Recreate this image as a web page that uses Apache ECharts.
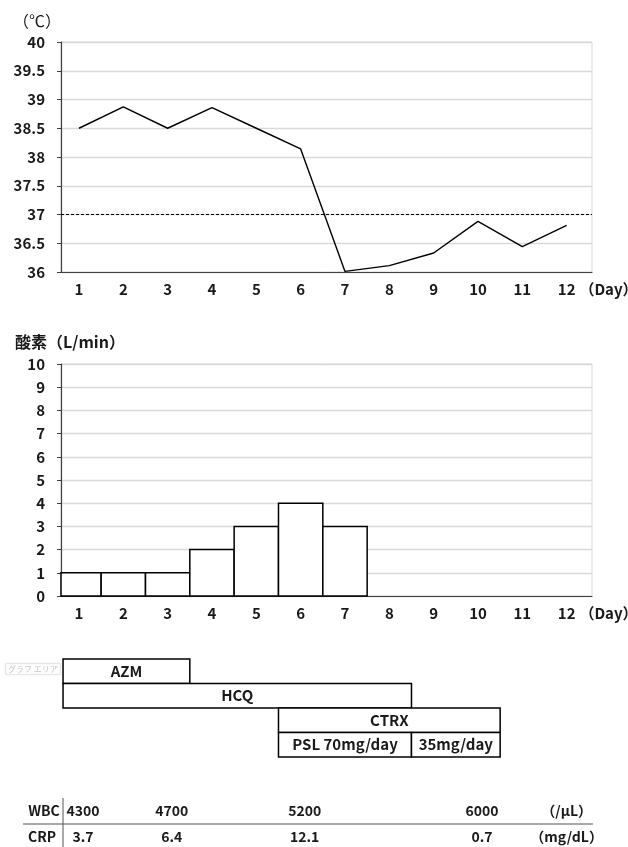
<!DOCTYPE html>
<html>
<head>
<meta charset="utf-8">
<script src="https://cdn.jsdelivr.net/npm/echarts@6/dist/echarts.min.js"></script>
<style>
html,body{margin:0;padding:0;background:#fff;}
#c{width:628px;height:847px;}
</style>
</head>
<body>
<div id="c"></div>
<script>
// ---- data ----
const days = [1,2,3,4,5,6,7,8,9,10,11,12];
const dayLabels = ['1','2','3','4','5','6','7','8','9','10','11','12'];
const temperature = [38.5, 38.87, 38.5, 38.86, 38.5, 38.14, 36.01, 36.11, 36.33, 36.88, 36.44, 36.81];
const feverLine = 37;
const oxygen = [1, 1, 1, 2, 3, 4, 3, 0, 0, 0, 0, 0];
const drugNames = ['AZM', 'HCQ', 'CTRX', 'PSL 70mg/day', '35mg/day'];
const drugStart = [0.64, 0.64, 5.5, 5.5, 8.5];
const drugEnd   = [3.5, 8.5, 10.5, 8.5, 10.5];
const drugRow   = [0, 1, 2, 3, 3];
const labRows = ['WBC', 'CRP'];
const labUnits = ['（/μL）', '（mg/dL）'];
const wbcDays = [1, 3, 6, 10];
const wbcValues = ['4300', '4700', '5200', '6000'];
const crpDays = [1, 3, 6, 10];
const crpValues = ['3.7', '6.4', '12.1', '0.7'];

// ---- styles ----
const FONT = "'Noto Sans CJK JP', 'Noto Sans', sans-serif";
const TXT = '#1a1a1a';
const GRIDC = '#d9d9d9';
const AXC = '#404040';
const XMIN = 0.594, XMAX = 12.572;

const chart = echarts.init(document.getElementById('c'), null, {renderer: 'canvas'});

function dayAxis(gridIndex, showLabels) {
  return {
    type: 'value', gridIndex, min: XMIN, max: XMAX,
    axisLine: {show: showLabels, onZero: false, lineStyle: {color: AXC, width: 1.2}},
    axisTick: {show: false},
    splitLine: {show: false},
    axisLabel: showLabels ? {
      show: true, customValues: days, margin: 10,
      formatter: v => dayLabels[days.indexOf(Math.round(v))] || '',
      fontFamily: FONT, fontWeight: 'bold', fontSize: 15, color: TXT
    } : {show: false},
    name: showLabels ? '（Day）' : '',
    nameLocation: 'end', nameGap: -28,
    nameTextStyle: {fontFamily: FONT, fontWeight: 'bold', fontSize: 15, color: TXT,
      verticalAlign: 'top', align: 'left', padding: [10, 0, 0, 0]}
  };
}

function valAxis(gridIndex, min, max, interval) {
  return {
    type: 'value', gridIndex, min, max, interval,
    axisLine: {show: true, lineStyle: {color: AXC, width: 1.2}},
    axisTick: {show: true, length: 4, lineStyle: {color: AXC}},
    splitLine: {show: true, lineStyle: {color: GRIDC, width: 1.3}},
    axisLabel: {margin: 16, fontFamily: FONT, fontWeight: 'bold', fontSize: 15, color: TXT}
  };
}

const labData = [];
wbcDays.forEach((d, i) => labData.push([d, 0, wbcValues[i]]));
crpDays.forEach((d, i) => labData.push([d, 1, crpValues[i]]));

const option = {
  backgroundColor: '#fff',
  animation: false,
  title: [
    {text: '（℃）', left: 8, top: 8, textStyle: {fontFamily: FONT, fontWeight: 'normal', fontSize: 16, color: TXT}},
    {text: '酸素（L/min）', left: 10, top: 329, textStyle: {fontFamily: FONT, fontWeight: 'bold', fontSize: 16, color: TXT}},
    {text: 'グラフ エリア', left: 5, top: 663, padding: [2, 3],
      borderColor: '#e6e6e6', borderWidth: 1, shadowColor: 'rgba(0,0,0,0.08)', shadowBlur: 3,
      textStyle: {fontFamily: FONT, fontWeight: 'normal', fontSize: 8, color: '#c8c8c8'}}
  ],
  grid: [
    {left: 61, right: 36, top: 42, height: 230, show: true, borderColor: GRIDC, borderWidth: 1, outerBoundsMode: 'none', containLabel: false},
    {left: 61, right: 36, top: 364, height: 232, show: true, borderColor: GRIDC, borderWidth: 1, outerBoundsMode: 'none', containLabel: false},
    {left: 61, right: 36, top: 659, height: 98, outerBoundsMode: 'none', containLabel: false},
    {left: 61, right: 36, top: 798, height: 52, outerBoundsMode: 'none', containLabel: false}
  ],
  xAxis: [dayAxis(0, true), dayAxis(1, true), dayAxis(2, false), dayAxis(3, false)],
  yAxis: [
    valAxis(0, 36, 40, 0.5),
    valAxis(1, 0, 10, 1),
    {type: 'value', gridIndex: 2, min: 0, max: 4, inverse: true, show: false},
    {type: 'value', gridIndex: 3, min: 0, max: 2, inverse: true, show: false}
  ],
  series: [
    {
      type: 'line', xAxisIndex: 0, yAxisIndex: 0,
      data: days.map((d, i) => [d, temperature[i]]),
      symbol: 'none', lineStyle: {color: '#000', width: 1.4}, z: 5,
      markLine: {
        silent: true, symbol: 'none', label: {show: false},
        lineStyle: {color: '#000', width: 1, type: [3, 2]},
        data: [{yAxis: feverLine}]
      }
    },
    {
      type: 'custom', xAxisIndex: 1, yAxisIndex: 1,
      data: days.map((d, i) => [d, oxygen[i]]),
      renderItem(params, api) {
        const d = api.value(0), v = api.value(1);
        if (!v) return;
        const p0 = api.coord([d - 0.5, v]);
        const p1 = api.coord([d + 0.5, 0]);
        const cs = params.coordSys;
        const r = echarts.graphic.clipRectByRect(
          {x: p0[0], y: p0[1], width: p1[0] - p0[0], height: p1[1] - p0[1]},
          {x: cs.x, y: cs.y, width: cs.width, height: cs.height});
        if (!r) return;
        return {type: 'rect', shape: r, style: {fill: '#fff', stroke: '#000', lineWidth: 1.5}};
      },
      z: 5
    },
    {
      type: 'custom', xAxisIndex: 2, yAxisIndex: 2,
      data: drugNames.map((n, i) => [drugStart[i], drugEnd[i], drugRow[i], n]),
      renderItem(params, api) {
        const p0 = api.coord([api.value(0), api.value(2)]);
        const p1 = api.coord([api.value(1), api.value(2) + 1]);
        return {
          type: 'rect',
          shape: {x: p0[0], y: p0[1], width: p1[0] - p0[0], height: p1[1] - p0[1]},
          style: {fill: '#fff', stroke: '#000', lineWidth: 1.5},
          textContent: {style: {text: drugNames[params.dataIndex], fontFamily: FONT, fontWeight: 'bold', fontSize: 15, fill: TXT}},
          textConfig: {position: 'inside'}
        };
      }
    },
    {
      type: 'custom', xAxisIndex: 3, yAxisIndex: 3,
      data: [[0]],
      renderItem(params, api) {
        const cs = params.coordSys;
        const yMid = api.coord([XMIN, 1])[1];
        return {
          type: 'group',
          children: [
            {type: 'line', shape: {x1: cs.x - 38, y1: yMid, x2: cs.x + cs.width + 1, y2: yMid}, style: {stroke: '#8c8c8c', lineWidth: 1.3}},
            {type: 'line', shape: {x1: cs.x + 2, y1: cs.y, x2: cs.x + 2, y2: cs.y + cs.height}, style: {stroke: '#555', lineWidth: 1}},
            {type: 'text', style: {text: labRows[0], x: cs.x - 17, y: api.coord([XMIN, 0.5])[1], align: 'center', verticalAlign: 'middle', fontFamily: FONT, fontWeight: 'bold', fontSize: 14, fill: TXT}},
            {type: 'text', style: {text: labRows[1], x: cs.x - 19, y: api.coord([XMIN, 1.5])[1], align: 'center', verticalAlign: 'middle', fontFamily: FONT, fontWeight: 'bold', fontSize: 14, fill: TXT}},
            {type: 'text', style: {text: labUnits[0], x: api.coord([12, 0.5])[0], y: api.coord([12, 0.5])[1], align: 'center', verticalAlign: 'middle', fontFamily: FONT, fontWeight: 'bold', fontSize: 14, fill: TXT}},
            {type: 'text', style: {text: labUnits[1], x: api.coord([12, 1.5])[0], y: api.coord([12, 1.5])[1], align: 'center', verticalAlign: 'middle', fontFamily: FONT, fontWeight: 'bold', fontSize: 14, fill: TXT}}
          ]
        };
      }
    },
    {
      type: 'custom', xAxisIndex: 3, yAxisIndex: 3,
      data: labData,
      renderItem(params, api) {
        const p = api.coord([api.value(0), api.value(1) + 0.5]);
        return {type: 'text', style: {text: labData[params.dataIndex][2], x: p[0] + 4, y: p[1], align: 'center', verticalAlign: 'middle', fontFamily: FONT, fontWeight: 'bold', fontSize: 14, fill: TXT}};
      }
    }
  ]
};
chart.setOption(option);
</script>
</body>
</html>
